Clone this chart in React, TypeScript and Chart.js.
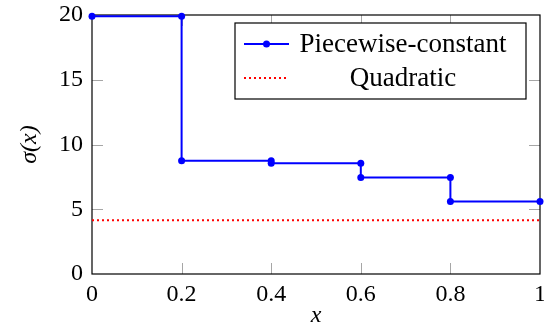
import { useEffect, useRef } from "react";
import { Chart, registerables } from "chart.js";

Chart.register(...registerables);

// Interval end points on x and the constant level held on each interval
const breakpoints = [0, 0.2, 0.4, 0.6, 0.8, 1];
const stepValues = [19.9, 8.75, 8.55, 7.45, 5.6];

// The quadratic model gives a single flat level over the whole range
const quadraticX = [0, 1];
const quadraticLevel = 4.15;

const seriesLabels = ["Piecewise-constant", "Quadratic"];
const xTitle = "x";
const yTitle = "σ(x)";

const SERIF = "'Liberation Serif', 'Times New Roman', serif";
const FONT_SIZE = 24;

// Inward tick marks on all four sides plus the closed axis frame
const frameAndTicks = {
  id: "frameAndTicks",
  beforeDatasetsDraw(chart: any) {
    const { ctx, chartArea: a, scales } = chart;
    const xs = scales.x;
    const ys = scales.y;
    const len = 11;
    ctx.save();
    ctx.strokeStyle = "#a6a6a6";
    ctx.lineWidth = 1;
    ctx.beginPath();
    for (const t of xs.ticks) {
      const px = Math.round(xs.getPixelForValue(t.value)) + 0.5;
      if (px <= a.left + 1 || px >= a.right - 1) continue;
      ctx.moveTo(px, a.bottom);
      ctx.lineTo(px, a.bottom - len);
      ctx.moveTo(px, a.top);
      ctx.lineTo(px, a.top + len);
    }
    for (const t of ys.ticks) {
      const py = Math.round(ys.getPixelForValue(t.value)) + 0.5;
      if (py <= a.top + 1 || py >= a.bottom - 1) continue;
      ctx.moveTo(a.left, py);
      ctx.lineTo(a.left + len, py);
      ctx.moveTo(a.right, py);
      ctx.lineTo(a.right - len, py);
    }
    ctx.stroke();
    ctx.strokeStyle = "#000";
    ctx.lineWidth = 1.2;
    ctx.strokeRect(a.left, a.top, a.right - a.left, a.bottom - a.top);
    ctx.restore();
  },
};

// Boxed legend in the upper right corner of the plot area
const boxedLegend = {
  id: "boxedLegend",
  afterDraw(chart: any) {
    const { ctx, chartArea: a } = chart;
    const left = a.right - 305;
    const right = a.right - 14;
    const top = a.top + 8;
    const bottom = a.top + 84;
    ctx.save();
    ctx.fillStyle = "#fff";
    ctx.fillRect(left, top, right - left, bottom - top);
    ctx.strokeStyle = "#000";
    ctx.lineWidth = 1.2;
    ctx.strokeRect(left, top, right - left, bottom - top);

    const rows = [a.top + 29, a.top + 63];
    const sampleL = left + 9;
    const sampleR = left + 54;
    const textX = left + 168;
    chart.data.datasets.forEach((ds: any, i: number) => {
      const y = rows[i];
      ctx.save();
      ctx.strokeStyle = ds.borderColor;
      ctx.lineWidth = ds.borderWidth;
      ctx.setLineDash(ds.borderDash || []);
      ctx.beginPath();
      ctx.moveTo(sampleL, y);
      ctx.lineTo(sampleR, y);
      ctx.stroke();
      ctx.restore();
      if (ds.pointRadius > 0) {
        ctx.fillStyle = ds.pointBackgroundColor;
        ctx.beginPath();
        ctx.arc((sampleL + sampleR) / 2, y, ds.pointRadius, 0, Math.PI * 2);
        ctx.fill();
      }
      ctx.fillStyle = "#000";
      ctx.font = `${FONT_SIZE + 3}px ${SERIF}`;
      ctx.textAlign = "center";
      ctx.textBaseline = "alphabetic";
      ctx.fillText(ds.label, textX, y + 8);
    });
    ctx.restore();
  },
};

const formatTick = (v: number | string) => String(Number(Number(v).toFixed(2)));

export default function App() {
  const canvasRef = useRef<HTMLCanvasElement | null>(null);

  useEffect(() => {
    const canvas = canvasRef.current;
    if (!canvas) return;

    const stepPoints: { x: number; y: number }[] = [];
    stepValues.forEach((v, i) => {
      stepPoints.push({ x: breakpoints[i], y: v });
      stepPoints.push({ x: breakpoints[i + 1], y: v });
    });
    const quadraticPoints = quadraticX.map((x) => ({ x, y: quadraticLevel }));

    const tickFont = { family: SERIF, size: FONT_SIZE };
    const titleFont = { family: SERIF, size: FONT_SIZE, style: "italic" as const };

    const chart = new Chart(canvas, {
      type: "line",
      data: {
        datasets: [
          {
            label: seriesLabels[0],
            data: stepPoints,
            borderColor: "#0000ff",
            backgroundColor: "#0000ff",
            pointBackgroundColor: "#0000ff",
            pointBorderColor: "#0000ff",
            borderWidth: 2,
            pointRadius: 3.5,
            pointBorderWidth: 0,
            tension: 0,
            clip: false as any,
          },
          {
            label: seriesLabels[1],
            data: quadraticPoints,
            borderColor: "#ff0000",
            backgroundColor: "#ff0000",
            pointBackgroundColor: "#ff0000",
            borderWidth: 2,
            borderDash: [2, 3],
            pointRadius: 0,
            tension: 0,
          },
        ],
      },
      options: {
        responsive: false,
        animation: false,
        devicePixelRatio: 1,
        layout: { padding: { top: 15, right: 4, bottom: 0, left: 0 } },
        plugins: {
          legend: { display: false },
          tooltip: { enabled: false },
        },
        scales: {
          x: {
            type: "linear",
            min: 0,
            max: 1,
            ticks: { stepSize: 0.2, font: tickFont, color: "#000", padding: 6, maxRotation: 0, callback: formatTick },
            grid: { display: true, drawOnChartArea: false, drawTicks: false },
            border: { display: false },
            title: { display: true, text: xTitle, font: titleFont, color: "#000", padding: { top: 0, bottom: 6 } },
            afterFit(scale: any) {
              scale.height = 62;
              scale.paddingLeft = 0;
              scale.paddingRight = 0;
            },
          },
          y: {
            type: "linear",
            min: 0,
            max: 20,
            ticks: { stepSize: 5, font: tickFont, color: "#000", padding: 9, callback: formatTick },
            grid: { display: true, drawOnChartArea: false, drawTicks: false },
            border: { display: false },
            title: { display: true, text: yTitle, font: titleFont, color: "#000", padding: { top: 15, bottom: 0 } },
            afterFit(scale: any) {
              scale.width = 92;
              scale.paddingTop = 0;
              scale.paddingBottom = 0;
            },
          },
        },
      },
      plugins: [frameAndTicks, boxedLegend],
    });

    return () => chart.destroy();
  }, []);

  return (
    <div style={{ position: "fixed", left: 0, top: 0, width: 544, height: 336, background: "#fff" }}>
      <canvas ref={canvasRef} width={544} height={336} style={{ display: "block", width: 544, height: 336 }} />
    </div>
  );
}
